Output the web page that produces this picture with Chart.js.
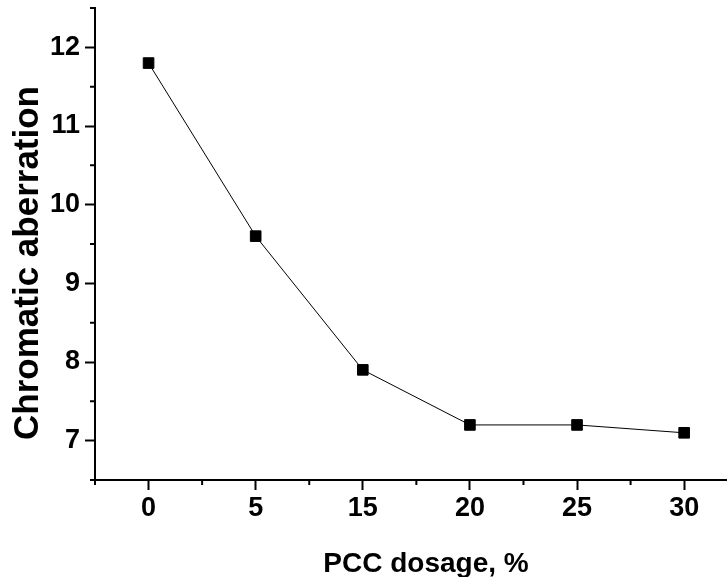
<!DOCTYPE html>
<html>
<head>
<meta charset="utf-8">
<script src="https://cdn.jsdelivr.net/npm/chart.js@4/dist/chart.umd.min.js"></script>
<style>
  html, body { margin: 0; padding: 0; background: #fff; overflow: hidden; }
</style>
</head>
<body>
<canvas id="chart" width="727" height="577"></canvas>
<script>
// PCC dosage categories and measured chromatic aberration
const doseLabels = ['0', '5', '15', '20', '25', '30']
const aberration = [11.8, 9.6, 7.9, 7.2, 7.2, 7.1]
const yMin = 6.5
const yMax = 12.5
const xTitle = 'PCC dosage, %'
const yTitle = 'Chromatic aberration'

const FONT = "'Liberation Sans', Arial, sans-serif"

function halfSteps(min, max) {
    const out = []
    for (let v = min; v <= max + 1e-9; v += 0.5) out.push({ value: Math.round(v * 10) / 10 })
    return out
}
function isMinor(v) {
    return Math.abs(v - Math.round(v)) > 1e-6
}

// short ticks at the half values + axis titles
const extras = {
    id: 'extras',
    afterDraw(chart) {
        const ctx = chart.ctx
        const area = chart.chartArea
        const xs = chart.scales.x
        const ys = chart.scales.y
        ctx.save()
        ctx.strokeStyle = '#000'
        ctx.lineWidth = 2
        ctx.beginPath()
        xs.ticks.forEach(t => {
            if (!isMinor(t.value)) return
            const px = xs.getPixelForValue(t.value)
            ctx.moveTo(px, area.bottom)
            ctx.lineTo(px, area.bottom + 5)
        })
        ys.ticks.forEach(t => {
            if (!isMinor(t.value)) return
            const py = ys.getPixelForValue(t.value)
            ctx.moveTo(area.left, py)
            ctx.lineTo(area.left - 5, py)
        })
        ctx.stroke()

        ctx.fillStyle = '#000'
        ctx.textAlign = 'center'
        ctx.textBaseline = 'alphabetic'
        ctx.font = 'bold 28px ' + FONT
        ctx.fillText(xTitle, 426, 572)
        ctx.translate(38, 263)
        ctx.rotate(-Math.PI / 2)
        ctx.font = 'bold 35px ' + FONT
        ctx.fillText(yTitle, 0, 0)
        ctx.restore()
    }
}

const points = doseLabels.map((d, i) => ({ x: i, y: aberration[i] }))

const tickFont = { family: FONT, weight: 'bold', size: 27 }

new Chart(document.getElementById('chart'), {
    type: 'line',
    data: {
        datasets: [{
            data: points,
            borderColor: '#000',
            borderWidth: 1,
            pointStyle: 'rect',
            pointRadius: 7.5,
            pointBackgroundColor: '#000',
            pointBorderColor: '#000',
            pointBorderWidth: 1,
            tension: 0
        }]
    },
    options: {
        responsive: false,
        animation: false,
        layout: { autoPadding: false, padding: { top: 8, right: 0, left: 0, bottom: 0 } },
        plugins: { legend: { display: false }, tooltip: { enabled: false } },
        scales: {
            x: {
                type: 'linear',
                min: -0.5,
                max: 5.4,
                afterBuildTicks: s => { s.ticks = halfSteps(-0.5, 5.0) },
                afterFit: s => {
                    s.height = 97
                    s.paddingLeft = 0
                    s.paddingRight = 0
                },
                grid: {
                    drawOnChartArea: false,
                    drawTicks: true,
                    tickLength: 10,
                    tickWidth: 2,
                    tickColor: c => (c.tick && isMinor(c.tick.value)) ? 'rgba(0,0,0,0)' : '#000'
                },
                border: { color: '#000', width: 2 },
                ticks: {
                    autoSkip: false,
                    maxRotation: 0,
                    padding: 2,
                    color: '#000',
                    font: tickFont,
                    callback: v => isMinor(v) ? '' : doseLabels[Math.round(v)]
                }
            },
            y: {
                min: yMin,
                max: yMax,
                afterBuildTicks: s => { s.ticks = halfSteps(yMin, yMax) },
                afterFit: s => {
                    s.width = 95
                    s.paddingTop = 0
                    s.paddingBottom = 0
                },
                grid: {
                    drawOnChartArea: false,
                    drawTicks: true,
                    tickLength: 10,
                    tickWidth: 2,
                    tickColor: c => (c.tick && isMinor(c.tick.value)) ? 'rgba(0,0,0,0)' : '#000'
                },
                border: { color: '#000', width: 2 },
                ticks: {
                    autoSkip: false,
                    padding: 5,
                    color: '#000',
                    font: tickFont,
                    callback: v => isMinor(v) ? '' : String(v)
                }
            }
        }
    },
    plugins: [extras]
})
</script>
</body>
</html>
